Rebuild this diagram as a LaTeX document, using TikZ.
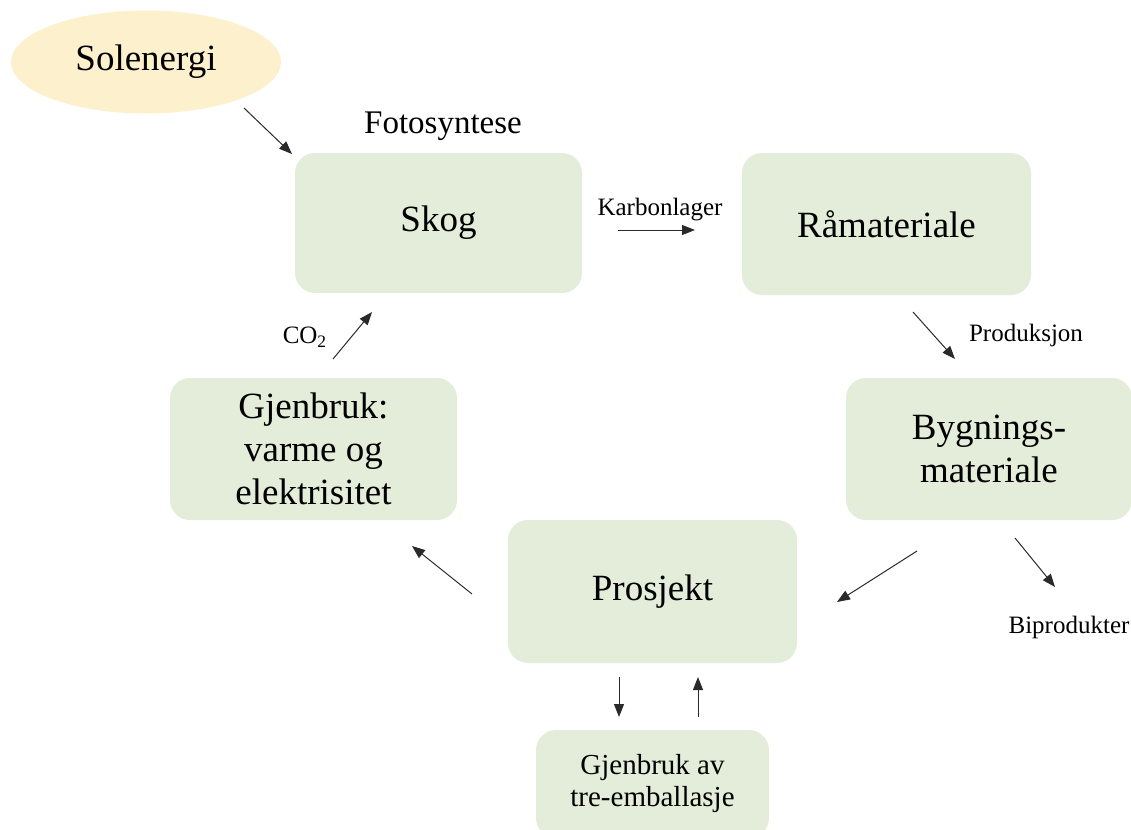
\documentclass[tikz,border=0pt]{standalone}
\usepackage{fontspec}
\setmainfont{Liberation Serif}
\usetikzlibrary{arrows.meta,shapes.geometric}
\definecolor{boxgreen}{HTML}{E3EDD9}
\definecolor{sunyellow}{HTML}{FCF0CD}
\definecolor{arrgray}{HTML}{2A2A2A}
\tikzset{
  box/.style={fill=boxgreen, rounded corners=10pt, align=center, inner sep=2pt,
              font=\fontsize{18.5}{21.5}\selectfont},
  smallbox/.style={box, font=\fontsize{14.5}{16}\selectfont},
  sunnode/.style={ellipse, fill=sunyellow, inner sep=0pt, font=\fontsize{18.5}{21.5}\selectfont},
  arr/.style={-{Triangle[length=6.5pt, width=5pt]}, line width=0.5pt, draw=arrgray},
  lab/.style={font=\fontsize{12.5}{15}\selectfont, inner sep=0pt},
}

\begin{document}
\begin{tikzpicture}[x=0.5pt, y=-0.5pt]
    \useasboundingbox (0,0) rectangle (1131,830);
    \clip (0,0) rectangle (1131,830);
    % nodes
    \node[sunnode, minimum width=135pt, minimum height=51.5pt] (sol) at (146,62) {Solenergi};
    \node[font=\fontsize{16.5}{19}\selectfont, inner sep=0pt] (foto) at (443,126) {Fotosyntese};
    \node[box, minimum width=143.5pt, minimum height=70pt] (skog) at (438.5,223) {Skog};
    \node[box, minimum width=144.5pt, minimum height=71pt] (raa) at (886.5,224) {Råmateriale};
    \node[box, minimum width=143pt, minimum height=71pt] (bygg) at (989,449) {Bygnings-\\materiale};
    \node[box, minimum width=144.5pt, minimum height=71.5pt] (prosj) at (652.5,591.5) {Prosjekt};
    \node[box, minimum width=143.5pt, minimum height=71pt] (varme) at (313.5,449) {Gjenbruk:\\varme og\\elektrisitet};
    \node[smallbox, minimum width=116.5pt, minimum height=54pt] (embal) at (652.5,784) {Gjenbruk av\\tre-emballasje};
    \node[lab] (karb) at (660,210) {Karbonlager};
    \node[lab] (prod) at (1026,335) {Produksjon};
    \node[lab] (bipr) at (1069,627) {Biprodukter};
    \node[lab] (co2) at (305,337) {CO\textsubscript{2}};
    % arrow ends
    \coordinate (sunA) at (244,108);  \coordinate (sunB) at (292,154);
    \coordinate (karbA) at (618,230); \coordinate (karbB) at (695,230);
    \coordinate (prodA) at (913,312); \coordinate (prodB) at (955,359);
    \coordinate (biA) at (1015,538);  \coordinate (biB) at (1055,587);
    \coordinate (byA) at (917,551);   \coordinate (byB) at (837,602);
    \coordinate (gjA) at (472,594);   \coordinate (gjB) at (412,546);
    \coordinate (coA) at (333,359);   \coordinate (coB) at (372,312);
    \coordinate (dnA) at (619,677);   \coordinate (dnB) at (619,717);
    \coordinate (upA) at (698,717);   \coordinate (upB) at (698,677);
    \draw[arr] (sunA)--(sunB); \draw[arr] (karbA)--(karbB); \draw[arr] (prodA)--(prodB);
    \draw[arr] (biA)--(biB); \draw[arr] (byA)--(byB); \draw[arr] (gjA)--(gjB);
    \draw[arr] (coA)--(coB); \draw[arr] (dnA)--(dnB); \draw[arr] (upA)--(upB);
  \end{tikzpicture}
\end{document}
